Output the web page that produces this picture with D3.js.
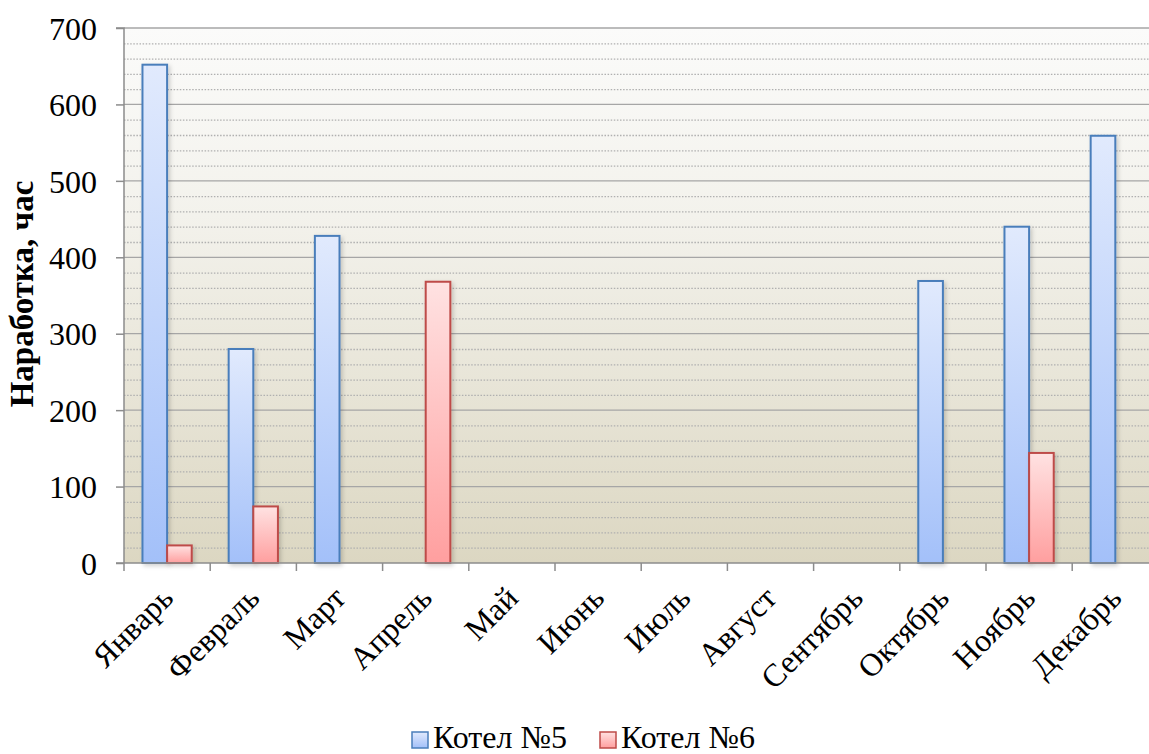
<!DOCTYPE html>
<html><head><meta charset="utf-8">
<script src="https://cdn.jsdelivr.net/npm/d3@7"></script>
<style>body{margin:0;background:#fff;overflow:hidden}svg{display:block}</style>
</head><body>
<svg id="c" width="1149" height="754"></svg>
<script>
const months = ["Январь","Февраль","Март","Апрель","Май","Июнь","Июль","Август","Сентябрь","Октябрь","Ноябрь","Декабрь"];
const boiler5 = [652, 280, 428, 0, 0, 0, 0, 0, 0, 369, 440, 559];
const boiler6 = [23, 74, 0, 368, 0, 0, 0, 0, 0, 0, 144, 0];
const seriesNames = ["Котел №5", "Котел №6"];
const yTicks = [0,100,200,300,400,500,600,700];
const yTitle = "Наработка, час";

(function(){
const FONT = "'Liberation Serif','Times New Roman',serif";
const svg = d3.select("#c");
const pL = 124, pT = 28, pB = 563;
const bandW = 86.2;
const pR = pL + bandW * months.length;

const x = d3.scaleBand().domain(months).range([pL, pR]).paddingInner(0).paddingOuter(0);
const y = d3.scaleLinear().domain([0, 700]).range([pB, pT]);
const xs = d3.scaleBand().domain([0,1]).range([0, x.bandwidth()]).paddingInner(0).paddingOuter(0.75);

const defs = svg.append("defs");
const bg = defs.append("linearGradient").attr("id","bg").attr("x1",0).attr("y1",0).attr("x2",0).attr("y2",1);
bg.append("stop").attr("offset","0%").attr("stop-color","#fbfbfa");
bg.append("stop").attr("offset","35%").attr("stop-color","#f3f2ec");
bg.append("stop").attr("offset","100%").attr("stop-color","#dcd7c2");
const gb = defs.append("linearGradient").attr("id","gb").attr("x1",0).attr("y1",0).attr("x2",0).attr("y2",1);
gb.append("stop").attr("offset","0%").attr("stop-color","#e1eafd");
gb.append("stop").attr("offset","100%").attr("stop-color","#a3c0f9");
const gr = defs.append("linearGradient").attr("id","gr").attr("x1",0).attr("y1",0).attr("x2",0).attr("y2",1);
gr.append("stop").attr("offset","0%").attr("stop-color","#ffe2e2");
gr.append("stop").attr("offset","100%").attr("stop-color","#ff9f9f");
const sh = defs.append("filter").attr("id","sh").attr("x","-20%").attr("y","-20%").attr("width","160%").attr("height","160%");
sh.append("feDropShadow").attr("dx",2).attr("dy",2).attr("stdDeviation",2).attr("flood-color","#000").attr("flood-opacity",0.18);

svg.append("rect").attr("x",pL).attr("y",pT).attr("width",pR-pL).attr("height",pB-pT).attr("fill","url(#bg)");

const minor = d3.range(20, 700, 20).filter(v => v % 100 !== 0);
svg.append("g").selectAll("line").data(minor).join("line")
  .attr("x1",pL).attr("x2",pR).attr("y1",d=>y(d)+0.5).attr("y2",d=>y(d)+0.5)
  .attr("stroke","#b0b0b0").attr("stroke-width",1.3).attr("stroke-dasharray","1.5,1.6");
svg.append("g").selectAll("line").data(yTicks.filter(v=>v>0)).join("line")
  .attr("x1",pL).attr("x2",pR).attr("y1",d=>y(d)).attr("y2",d=>y(d))
  .attr("stroke","#a6a6a6").attr("stroke-width",1.3);

const data = [];
months.forEach((m,i)=>{
  data.push({m, s:0, v:boiler5[i]});
  data.push({m, s:1, v:boiler6[i]});
});
svg.append("g").selectAll("rect").data(data.filter(d=>d.v>0)).join("rect")
  .attr("x", d => x(d.m) + xs(d.s))
  .attr("y", d => y(d.v))
  .attr("width", xs.bandwidth())
  .attr("height", d => y(0) - y(d.v))
  .attr("fill", d => d.s===0 ? "url(#gb)" : "url(#gr)")
  .attr("stroke", d => d.s===0 ? "#4a7ebb" : "#be4b48")
  .attr("stroke-width", 2)
  .attr("filter","url(#sh)");

const yAxis = d3.axisLeft(y).tickValues(yTicks).tickSize(8).tickPadding(19);
const ya = svg.append("g").attr("transform",`translate(${pL},0)`).call(yAxis);
ya.select(".domain").attr("stroke","#8c8c8c").attr("stroke-width",1.5).attr("d",`M-8,${pT}H0V${pB}`);
ya.selectAll(".tick line").attr("stroke","#8c8c8c").attr("stroke-width",1.5);
ya.selectAll("text").attr("font-family",FONT).attr("font-size",32).attr("fill","#000").attr("dy","0.35em");

const xa = svg.append("g").attr("transform",`translate(0,${pB})`);
xa.append("line").attr("x1",pL-8).attr("x2",pR).attr("y1",0).attr("y2",0).attr("stroke","#8c8c8c").attr("stroke-width",1.5);
const bounds = d3.range(months.length+1).map(i => pL + i*bandW);
xa.selectAll("line.t").data(bounds).join("line").attr("class","t")
  .attr("x1",d=>d).attr("x2",d=>d).attr("y1",0).attr("y2",8).attr("stroke","#8c8c8c").attr("stroke-width",1.5);
xa.selectAll("text").data(months).join("text")
  .attr("transform", d => `translate(${x(d)+x.bandwidth()/2+8},37) rotate(-45)`)
  .attr("text-anchor","end")
  .attr("font-family",FONT).attr("font-size",32).attr("fill","#000")
  .text(d=>d);

svg.append("text").attr("transform",`translate(33,294) rotate(-90)`)
  .attr("text-anchor","middle").attr("font-family",FONT)
  .attr("font-weight","bold").attr("font-size",33).attr("fill","#000").text(yTitle);

const lg = svg.append("g");
const legX = [412, 600];
seriesNames.forEach((n,i)=>{
  lg.append("rect").attr("x",legX[i]).attr("y",732).attr("width",16).attr("height",16)
    .attr("fill", i===0 ? "url(#gb)" : "url(#gr)").attr("stroke", i===0 ? "#4a7ebb":"#be4b48").attr("stroke-width",1.5);
  lg.append("text").attr("x",legX[i]+21).attr("y",748).attr("font-family",FONT)
    .attr("font-size",32).attr("fill","#000").text(n);
});
})();
</script>
</body></html>
